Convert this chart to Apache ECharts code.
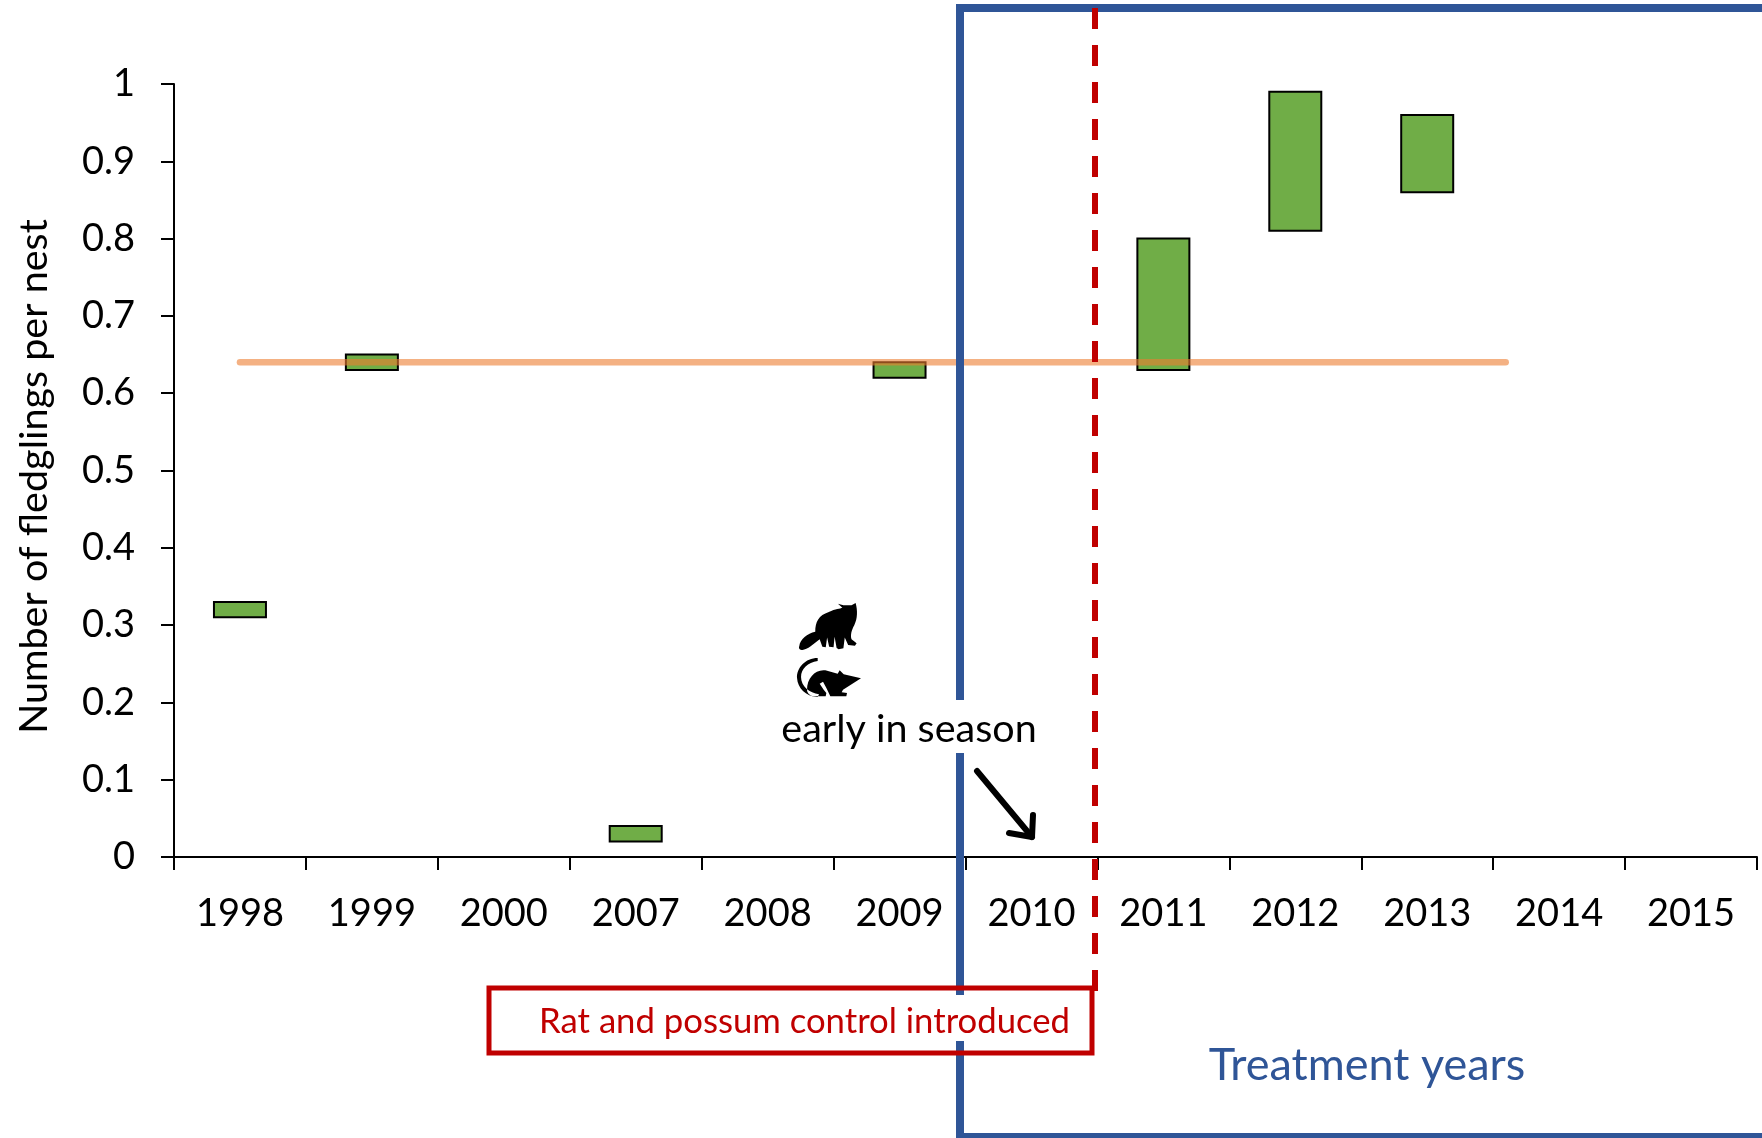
<!DOCTYPE html>
<html>
<head>
<meta charset="utf-8">
<style>html,body{margin:0;padding:0;background:#fff}#c{width:1762px;height:1138px}</style>
<script src="https://cdn.jsdelivr.net/npm/echarts@6/dist/echarts.min.js"></script>
</head>
<body>
<div id="c"></div>
<script>
const categories = ['1998','1999','2000','2007','2008','2009','2010','2011','2012','2013','2014','2015'];
const lowValues  = [0.31,0.63,null,0.02,null,0.62,null,0.63,0.81,0.86,null,null];
const highValues = [0.33,0.65,null,0.04,null,0.64,null,0.80,0.99,0.96,null,null];
const meanValue = 0.64;
const meanSpan = [0.5, 10.095];
const yTitle = 'Number of fledglings per nest';

const FONT = 'Lato';
const BLUE = '#2F5597', RED = '#C00000', GREEN = '#70AD47';
const chart = echarts.init(document.getElementById('c'), null, {renderer:'canvas'});
const possum = 'M118 198C120 178 142 160 165 155C165 125 175 105 205 95C225 85 238 85 245 82L232 70L248 75L272 75L284 68C290 90 290 115 280 135C272 150 268 165 272 178L287 190L282 197L262 195L252 172L248 205L234 208L228 204L222 170L219 202L206 200L200 172L196 202L186 200L178 178C160 192 140 212 125 210C117 209 116 203 118 198Z';
const rat = 'M172 235C135 235 108 265 110 295C112 325 135 350 172 352L176 344C148 340 122 320 122 292C122 268 142 248 172 244Z M140 330C140 295 165 268 195 272L232 282L238 272L250 284L302 296L248 330L244 338L260 340L258 350L210 350L198 325L188 306L178 312L190 330L198 340L196 350L160 350C148 347 140 340 140 330Z';

const rangeData = categories.map((c,i)=>[i,lowValues[i],highValues[i]]).filter(d=>d[1]!=null);

chart.setOption({
  animation:false,
  backgroundColor:'#fff',
  grid:{left:174,right:5,top:84,bottom:281,containLabel:false,outerBoundsMode:'none'},
  xAxis:[
    {type:'category',data:categories,
     axisLine:{lineStyle:{color:'#000',width:2}},
     axisTick:{show:true,length:13,lineStyle:{color:'#000',width:2}},
     axisLabel:{color:'#000',fontFamily:FONT,fontSize:38,margin:38,interval:0}},
    {type:'value',min:0,max:12,show:false}
  ],
  yAxis:{type:'value',min:0,max:1,interval:0.1,
    name:yTitle,nameLocation:'middle',nameGap:120,
    nameTextStyle:{color:'#000',fontFamily:FONT,fontSize:39.5,padding:[0,12,0,0]},
    axisLine:{show:true,lineStyle:{color:'#000',width:2}},
    axisTick:{show:true,length:13,lineStyle:{color:'#000',width:2}},
    axisLabel:{color:'#000',fontFamily:FONT,fontSize:38,margin:39},
    splitLine:{show:false}},
  series:[
    {type:'custom',xAxisIndex:0,yAxisIndex:0,silent:true,z:3,
     encode:{x:0,y:[1,2]},data:rangeData,
     renderItem:function(params,api){
       const a=api.coord([api.value(0),api.value(2)]);
       const b=api.coord([api.value(0),api.value(1)]);
       return {type:'rect',shape:{x:a[0]-26,y:a[1],width:52,height:b[1]-a[1]},
         style:{fill:GREEN,stroke:'#000',lineWidth:2}};
     }},
    {type:'line',xAxisIndex:1,yAxisIndex:0,showSymbol:false,silent:true,z:5,
     lineStyle:{color:'#ED7D31',opacity:0.6,width:6.5,cap:'round'},
     data:[[meanSpan[0],meanValue],[meanSpan[1],meanValue]]},
    {type:'custom',coordinateSystem:'none',silent:true,z:200,data:[0],
     renderItem:function(){
       return {type:'group',children:[
         {type:'path',shape:{pathData:possum,layout:'cover',x:799,y:603,width:58,height:47},style:{fill:'#000'}},
         {type:'path',shape:{pathData:rat,layout:'cover',x:797,y:658,width:64,height:39},style:{fill:'#000'}}
       ]};
     }}
  ],
  graphic:[
    {type:'polyline',z:100,shape:{points:[[1770,8],[960,8],[960,1137],[1770,1137]]},style:{stroke:BLUE,lineWidth:8,fill:null}},
    {type:'line',z:101,shape:{x1:1095,y1:8,x2:1095,y2:995},style:{stroke:RED,lineWidth:6,lineDash:[21,16]}},
    {type:'rect',z:102,shape:{x:780,y:700,width:260,height:53},style:{fill:'#fff'}},
    {type:'text',z:103,style:{text:'early in season',x:909,y:729,align:'center',verticalAlign:'middle',fontFamily:FONT,fontSize:39.5,fill:'#000'}},
    {type:'rect',z:103,shape:{x:489,y:988,width:603,height:65},style:{stroke:RED,lineWidth:5,fill:null}},
    {type:'rect',z:102,shape:{x:492,y:995,width:597,height:46},style:{fill:'#fff'}},
    {type:'text',z:104,style:{text:'Rat and possum control introduced',x:1070,y:1022,align:'right',verticalAlign:'middle',fontFamily:FONT,fontSize:34.7,fill:RED}},
    {type:'text',z:104,style:{text:'Treatment years',x:1367,y:1065,align:'center',verticalAlign:'middle',fontFamily:FONT,fontSize:45,fill:BLUE}},
    {type:'polyline',z:104,shape:{points:[[977,771],[1032,837]]},style:{stroke:'#000',lineWidth:6,lineCap:'round',fill:null}},
    {type:'polyline',z:104,shape:{points:[[1009,833],[1032,837],[1033,815]]},style:{stroke:'#000',lineWidth:6,lineCap:'round',lineJoin:'round',fill:null}}
  ]
});
</script>
</body>
</html>
